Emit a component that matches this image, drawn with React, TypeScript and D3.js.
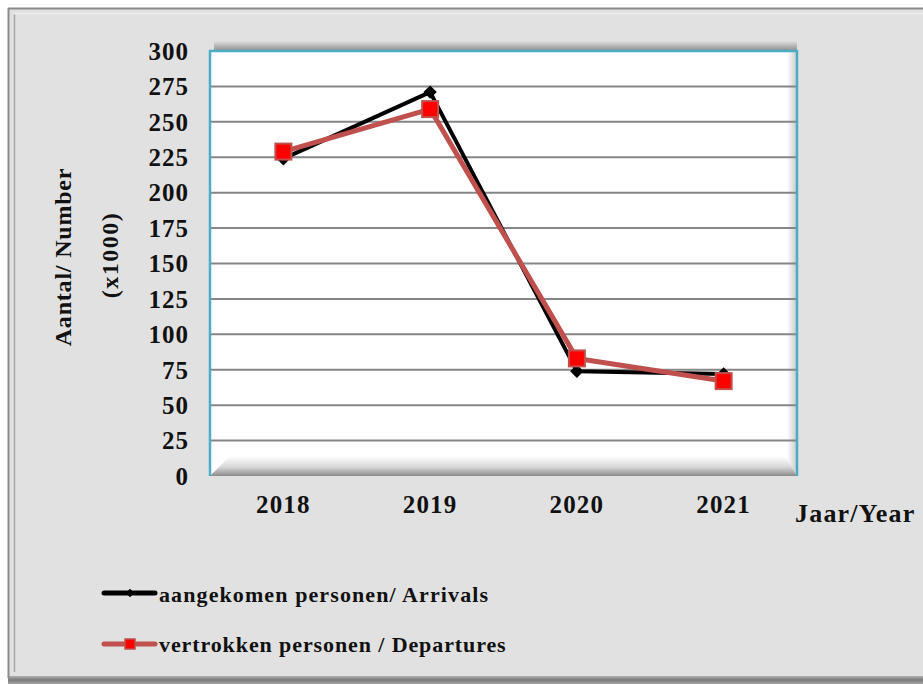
import React from 'react';
import * as d3 from 'd3';

// jaren en waarden (x1000)
const years = ['2018', '2019', '2020', '2021'];
const arrivals = [224, 271, 74, 72];
const departures = [229, 259, 83, 67];
const yTicks = [0, 25, 50, 75, 100, 125, 150, 175, 200, 225, 250, 275, 300];

const seriesNames = ['aangekomen personen/ Arrivals', 'vertrokken personen / Departures'];

const W = 923;
const H = 684;
const plot = { left: 210, top: 51, right: 797, bottom: 476 };
const font = '"Liberation Serif", "DejaVu Serif", serif';

export default function App() {
  const x = d3.scaleBand<string>().domain(years).range([plot.left, plot.right]);
  const y = d3.scaleLinear().domain([0, 300]).range([plot.bottom, plot.top]);
  const cx = (yr: string) => (x(yr) ?? 0) + x.bandwidth() / 2;

  const line = d3.line<number>()
    .x((_, i) => cx(years[i]))
    .y(d => y(d));

  // ruit = gedraaid vierkant
  const diamond = d3.symbol().type(d3.symbolSquare).size(90)();

  return (
    <svg width={W} height={H} style={{ position: 'absolute', left: 0, top: 0, display: 'block' }}>
      <defs>
        <linearGradient id="floor" x1="0" y1="0" x2="0" y2="1">
          <stop offset="0" stopColor="#ffffff" />
          <stop offset="0.55" stopColor="#d8d8d8" />
          <stop offset="1" stopColor="#8a8a8a" />
        </linearGradient>
        <linearGradient id="topShadow" x1="0" y1="0" x2="0" y2="1">
          <stop offset="0" stopColor="#e0e0e0" />
          <stop offset="1" stopColor="#8c8c8c" />
        </linearGradient>
        <linearGradient id="rightShade" x1="0" y1="0" x2="1" y2="0">
          <stop offset="0" stopColor="#ffffff" />
          <stop offset="1" stopColor="#c8c8c8" />
        </linearGradient>
        <linearGradient id="bottomFrame" x1="0" y1="0" x2="0" y2="1">
          <stop offset="0" stopColor="#b0b0b0" />
          <stop offset="0.5" stopColor="#7a7a7a" />
          <stop offset="1" stopColor="#a8a8a8" />
        </linearGradient>
      </defs>

      {/* achtergrond en kader */}
      <rect x={0} y={0} width={W} height={H} fill="#ffffff" />
      <rect x={8} y={8} width={W} height={H - 8} fill="#e1e1e1" />
      <rect x={8} y={676} width={W} height={8} fill="url(#bottomFrame)" />
      <line x1={8} y1={8.5} x2={W} y2={8.5} stroke="#8a8a8a" strokeWidth={2} />
      <line x1={8.5} y1={8} x2={8.5} y2={678} stroke="#8a8a8a" strokeWidth={2} />
      <line x1={14.5} y1={14} x2={14.5} y2={672} stroke="#a8a8a8" strokeWidth={1.5} />
      <line x1={14} y1={13.5} x2={W} y2={13.5} stroke="#ececec" strokeWidth={2} />

      {/* schaduw boven het plotvlak */}
      <rect x={plot.left + 4} y={plot.top - 10} width={plot.right - plot.left - 4} height={10} fill="url(#topShadow)" />

      {/* plotvlak */}
      <rect x={plot.left} y={plot.top} width={plot.right - plot.left} height={plot.bottom - plot.top} fill="#ffffff" />
      <rect x={plot.right - 10} y={plot.top} width={10} height={plot.bottom - plot.top} fill="url(#rightShade)" />
      <polygon
        points={[
          [plot.left, plot.bottom],
          [plot.left + 20, plot.bottom - 20],
          [plot.right - 12, plot.bottom - 20],
          [plot.right, plot.bottom],
        ].map(p => p.join(',')).join(' ')}
        fill="url(#floor)"
      />

      {yTicks.filter(t => t > 0 && t < 300).map(t => (
        <line key={t} x1={plot.left} x2={plot.right} y1={y(t)} y2={y(t)} stroke="#868686" strokeWidth={2} />
      ))}

      <path
        d={`M${plot.left},${plot.bottom} V${plot.top} H${plot.right} V${plot.bottom}`}
        fill="none"
        stroke="#4bacc6"
        strokeWidth={2.5}
      />

      {/* y-as labels */}
      {yTicks.map(t => (
        <text key={t} x={189} y={y(t)} dy="0.35em" textAnchor="end"
          fontFamily={font} fontWeight="bold" fontSize={25} letterSpacing={1} fill="#111">{t}</text>
      ))}

      {/* x-as labels */}
      {years.map(yr => (
        <text key={yr} x={cx(yr)} y={513} textAnchor="middle"
          fontFamily={font} fontWeight="bold" fontSize={25} letterSpacing={1.2} fill="#111">{yr}</text>
      ))}
      <text x={795} y={522} fontFamily={font} fontWeight="bold" fontSize={26} letterSpacing={1.2} fill="#111">Jaar/Year</text>

      <text transform="translate(71,257) rotate(-90)" textAnchor="middle"
        fontFamily={font} fontWeight="bold" fontSize={24} letterSpacing={0.8} fill="#111">Aantal/ Number</text>
      <text transform="translate(118,255) rotate(-90)" textAnchor="middle"
        fontFamily={font} fontWeight="bold" fontSize={24} letterSpacing={1.5} fill="#111">(x1000)</text>

      {/* reeksen */}
      <path d={line(arrivals) ?? ''} fill="none" stroke="#000" strokeWidth={4} strokeLinejoin="round" />
      {arrivals.map((v, i) => (
        <path key={i} d={diamond ?? ''} transform={`translate(${cx(years[i])},${y(v)}) rotate(45)`} fill="#000" />
      ))}
      <path d={line(departures) ?? ''} fill="none" stroke="#c0504d" strokeWidth={5} strokeLinejoin="round" />
      {departures.map((v, i) => (
        <rect key={i} x={cx(years[i]) - 8} y={y(v) - 8} width={16} height={16}
          fill="#ff0000" stroke="#c0504d" strokeWidth={2} />
      ))}

      {/* legenda */}
      <g>
        <line x1={104} x2={155} y1={593} y2={593} stroke="#000" strokeWidth={5} strokeLinecap="round" />
        <path d={d3.symbol().type(d3.symbolSquare).size(36)() ?? ''} transform="translate(130,593) rotate(45)" fill="#000" />
        <text x={159} y={602} fontFamily={font} fontWeight="bold" fontSize={22} letterSpacing={1.1} fill="#111">{seriesNames[0]}</text>

        <line x1={104} x2={155} y1={644} y2={644} stroke="#c0504d" strokeWidth={5} strokeLinecap="round" />
        <rect x={125} y={639} width={10} height={10} fill="#ff0000" stroke="#c0504d" strokeWidth={1.5} />
        <text x={159} y={652} fontFamily={font} fontWeight="bold" fontSize={22} letterSpacing={0.9} fill="#111">{seriesNames[1]}</text>
      </g>
    </svg>
  );
}
